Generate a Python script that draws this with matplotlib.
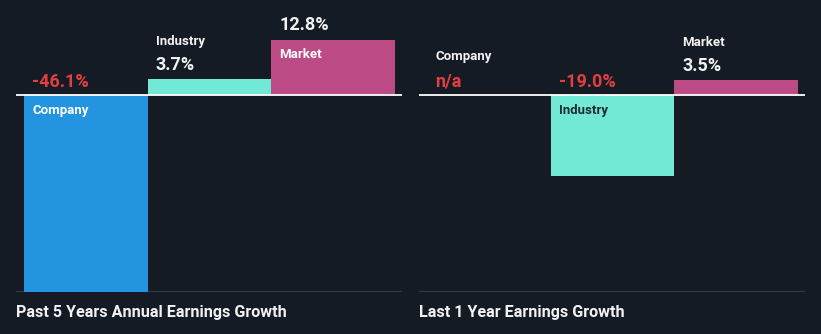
import matplotlib
matplotlib.use("Agg")
import matplotlib.pyplot as plt

# ---- data ----
categories = ["Company", "Industry", "Market"]
five_year_growth = [-46.1, 3.7, 12.8]          # %
one_year_growth = [None, -19.0, 3.5]           # % (None = n/a)
panel_titles = ["Past 5 Years Annual Earnings Growth", "Last 1 Year Earnings Growth"]

# ---- style ----
BG = "#151b25"
BAR_COLORS = ["#2394df", "#71e9d5", "#bb4a85"]
NAME_IN_BAR = ["#ffffff", "#1f2a33", "#ffffff"]
RED = "#e23f3f"
WHITE = "#f2f2f2"
GRID = "#3b414c"

W, H = 821, 334
fig = plt.figure(figsize=(W / 100, H / 100), dpi=100, facecolor=BG)

YMIN, YMAX = -46.1, 17.55
px_top, px_bot = 20, 292
panels = [(16, 402), (419, 805)]
series = [five_year_growth, one_year_growth]

def fx(px):
    return px / W

def fy(py):
    return 1 - py / H

bar_w = 1.0
off_l = 8 / 123.5
off_r = 7 / 123.5

VAL_KW = dict(fontsize=13, family="Roboto", fontweight="bold", ha="left", va="center",
              textcoords="offset pixels", zorder=4)
NAME_KW = dict(fontsize=9.5, family="Roboto", fontweight="bold", ha="left", va="center",
               textcoords="offset pixels", zorder=4)

for (x0, x1), vals, title in zip(panels, series, panel_titles):
    ax = fig.add_axes([fx(x0), fy(px_bot), fx(x1 - x0), (px_bot - px_top) / H])
    ax.set_facecolor(BG)
    ax.set_xlim(-0.5 - off_l, 2.5 + off_r)
    ax.set_ylim(YMIN, YMAX)
    ax.axis("off")

    xs = list(range(len(categories)))
    for i, (cat, v) in enumerate(zip(categories, vals)):
        left = xs[i] - 0.5
        if v is not None:
            ax.bar(xs[i], v, width=bar_w, color=BAR_COLORS[i], edgecolor="none", zorder=2)
        val_txt = "n/a" if v is None else f"{v:.1f}%"
        val_col = RED if (v is None or v < 0) else WHITE
        if v is None or v < 0:
            ax.annotate(val_txt, xy=(left, 0), xytext=(8, 13), color=val_col, **VAL_KW)
            if v is None:
                ax.annotate(cat, xy=(left, 0), xytext=(8, 38), color=WHITE, **NAME_KW)
            else:
                ax.annotate(cat, xy=(left, 0), xytext=(8, -16), color=NAME_IN_BAR[i], **NAME_KW)
        else:
            if v > 8:
                ax.annotate(val_txt, xy=(left, v), xytext=(8, 15), color=val_col, **VAL_KW)
                ax.annotate(cat, xy=(left, v), xytext=(8, -14), color=NAME_IN_BAR[i], **NAME_KW)
            else:
                ax.annotate(val_txt, xy=(left, v), xytext=(8, 14), color=val_col, **VAL_KW)
                ax.annotate(cat, xy=(left, v), xytext=(8, 38), color=WHITE, **NAME_KW)

    ax.axhline(0, color="white", lw=1.3, zorder=3)
    ax.axhline(YMIN, color=GRID, lw=1.2, zorder=1)

    fig.text(fx(x0), fy(312), title, ha="left", va="center", color=WHITE,
             fontsize=11.6, family="Roboto", fontweight="bold")

fig.savefig("out.png", dpi=100, facecolor=BG)
